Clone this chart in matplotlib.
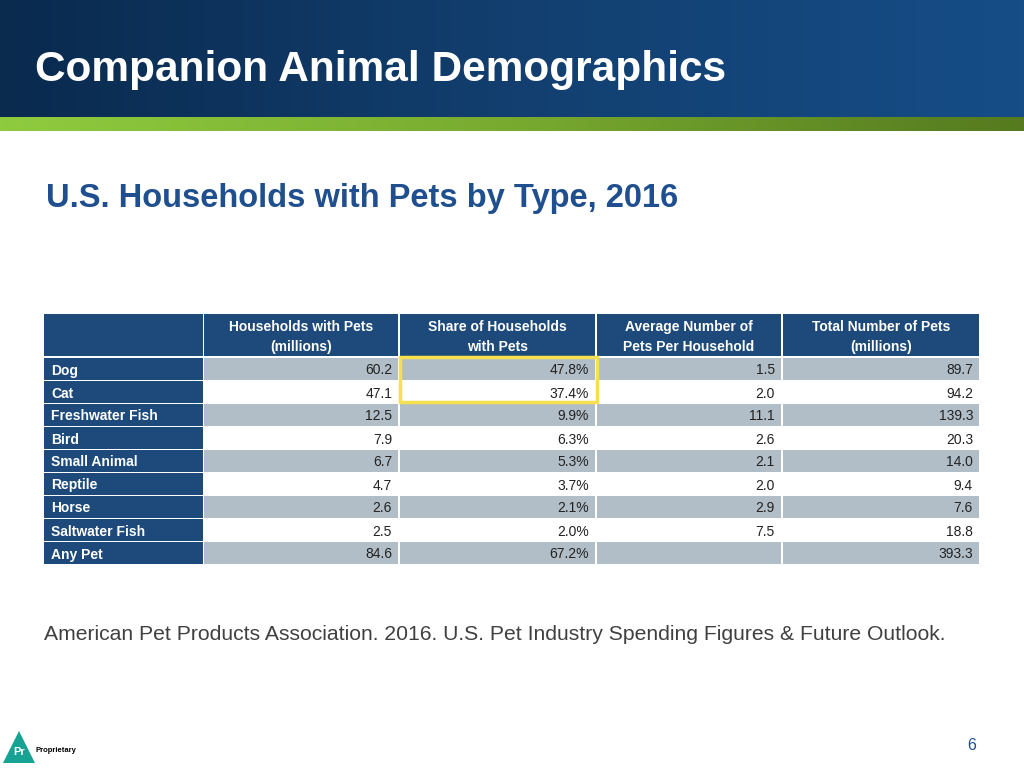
import matplotlib.pyplot as plt
import numpy as np
from matplotlib.patches import Rectangle, Polygon
from matplotlib.colors import LinearSegmentedColormap

# table data
headers = ['Households with Pets\n(millions)', 'Share of Households\nwith Pets',
           'Average Number of\nPets Per Household', 'Total Number of Pets\n(millions)']
pets = ['Dog', 'Cat', 'Freshwater Fish', 'Bird', 'Small Animal', 'Reptile',
        'Horse', 'Saltwater Fish', 'Any Pet']
households = ['60.2', '47.1', '12.5', '7.9', '6.7', '4.7', '2.6', '2.5', '84.6']
share = ['47.8%', '37.4%', '9.9%', '6.3%', '5.3%', '3.7%', '2.1%', '2.0%', '67.2%']
avg_pets = ['1.5', '2.0', '11.1', '2.6', '2.1', '2.0', '2.9', '7.5', '']
total_pets = ['89.7', '94.2', '139.3', '20.3', '14.0', '9.4', '7.6', '18.8', '393.3']

title = 'Companion Animal Demographics'
subtitle = 'U.S. Households with Pets by Type, 2016'
source = 'American Pet Products Association. 2016. U.S. Pet Industry Spending Figures & Future Outlook.'

NAVY = '#1d4a7a'
GRAY = '#b2bec7'
SANS = ['Liberation Sans', 'DejaVu Sans']


def main():
    fig = plt.figure(figsize=(10.24, 7.68), dpi=100)
    ax = fig.add_axes([0, 0, 1, 1])

    # header band with gradient
    blue = LinearSegmentedColormap.from_list('b', ['#0a2a4e', '#123f6f', '#164d87'])
    ax.imshow(np.linspace(0, 1, 256)[None, :], cmap=blue, aspect='auto',
              extent=[0, 1024, 117, 0], zorder=0)
    green = LinearSegmentedColormap.from_list('g', ['#8fcb3f', '#78aa30', '#557a1f'])
    ax.imshow(np.linspace(0, 1, 256)[None, :], cmap=green, aspect='auto',
              extent=[0, 1024, 131, 117], zorder=0)
    ax.set_xlim(0, 1024)
    ax.set_ylim(768, 0)
    ax.axis('off')

    ax.text(35, 70, title, color='white', fontsize=30.5, fontweight='bold',
            family=SANS, va='center', ha='left')
    ax.text(46, 198, subtitle, color='#1f4f8e', fontsize=23.5, fontweight='bold',
            family=SANS, va='center', ha='left')

    # table geometry
    col_l = [44, 204, 400, 597, 783]
    col_r = [203, 398, 595, 781, 979]
    head_top, head_bot = 314, 356
    row_top, row_h = 358, 23

    for c in range(5):
        ax.add_patch(Rectangle((col_l[c], head_top), col_r[c] - col_l[c],
                               head_bot - head_top, color=NAVY, lw=0))
    for c, h in enumerate(headers):
        ax.text((col_l[c + 1] + col_r[c + 1]) / 2, (head_top + head_bot) / 2 + 2, h,
                color='white', fontsize=10, fontweight='bold', family=SANS,
                ha='center', va='center', linespacing=1.55)

    columns = [households, share, avg_pets, total_pets]
    for r, pet in enumerate(pets):
        y0 = row_top + r * row_h
        ax.add_patch(Rectangle((col_l[0], y0), col_r[0] - col_l[0], row_h - 1,
                               color=NAVY, lw=0))
        ax.text(col_l[0] + 7, y0 + row_h / 2 + 1, pet, color='white', fontsize=10,
                fontweight='bold', family=SANS, va='center', ha='left')
        fill = GRAY if r % 2 == 0 else 'white'
        for c, vals in enumerate(columns):
            ax.add_patch(Rectangle((col_l[c + 1], y0), col_r[c + 1] - col_l[c + 1],
                                   row_h - 1, color=fill, lw=0))
            ax.text(col_r[c + 1] - 6, y0 + row_h / 2 + 1, vals[r], color='#222222',
                    fontsize=10, family=SANS, va='center', ha='right')

    # highlight around dog/cat share
    ax.add_patch(Rectangle((400, 357), 197, 45, fill=False, ec='#f7e04d', lw=2.5))

    ax.text(44, 634, source, color='#404040', fontsize=15.2, family=SANS,
            va='center', ha='left')

    # footer logo and page number
    ax.add_patch(Polygon([[3, 763], [19, 731], [35, 763]], closed=True,
                         color='#16a394', lw=0))
    ax.text(19, 752, 'Pr', color='white', fontsize=8, fontweight='bold',
            family=SANS, ha='center', va='center')
    ax.text(36, 751, 'Proprietary', color='black', fontsize=5.5, fontweight='bold',
            family=SANS, ha='left', va='center')
    ax.text(972, 745, '6', color='#1f4f8e', fontsize=11.5, family=SANS,
            ha='center', va='center')

    fig.savefig('out.png', dpi=100)


if __name__ == '__main__':
    main()
